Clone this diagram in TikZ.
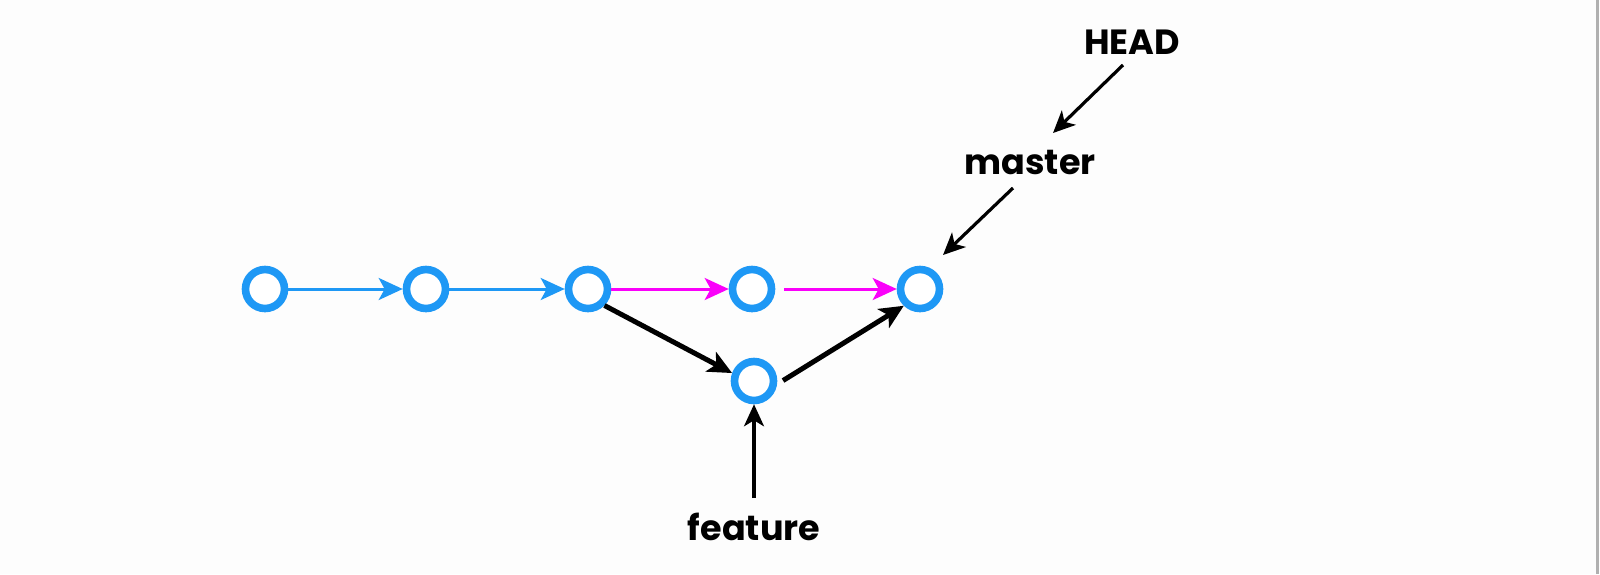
\documentclass[tikz,border=0pt]{standalone}
\usepackage{fontspec}
\setmainfont{Poppins}
\usetikzlibrary{arrows.meta}
\definecolor{gitblue}{RGB}{30,152,245}
\definecolor{gitmag}{RGB}{250,0,250}
\definecolor{bgcol}{RGB}{253,253,253}
\begin{document}
\begin{tikzpicture}[x=0.5pt,y=-0.5pt,
  commit/.style={circle,draw=gitblue,line width=3.8pt,minimum size=19.5pt,inner sep=0pt,fill=white},
  bluearrow/.style={draw=gitblue,line width=1.5pt,-{Stealth[length=12pt,width=11pt,inset=3pt]}},
  magarrow/.style={draw=gitmag,line width=1.5pt,-{Stealth[length=12pt,width=11pt,inset=3pt]}},
  thickarrow/.style={draw=black,line width=2.5pt,-{Stealth[length=12pt,width=11pt,inset=3pt]}},
  thinarrow/.style={draw=black,line width=1.6pt,-{Stealth[length=11pt,width=10pt,inset=3pt]}},
  label/.style={font=\fontsize{17.5}{20}\selectfont\bfseries,inner sep=0pt}]
\fill[bgcol] (0,0) rectangle (1600,574);
\useasboundingbox (0,0) rectangle (1600,574);
\draw[color={rgb,255:red,176;green,176;blue,176},line width=1.5pt] (1597,0) -- (1597,574);
\node[commit] (c1) at (265,289) {};
\node[commit] (c2) at (426,289) {};
\node[commit] (c3) at (588,289) {};
\node[commit] (c4) at (752,289) {};
\node[commit] (c5) at (920,289) {};
\node[commit] (c6) at (754,381) {};
\node[label] (head) at (1132,42) {HEAD};
\node[label] (master) at (1030,162) {master};
\node[label] (feature) at (754,527) {feature};
\coordinate (h1) at (1123,65);
\coordinate (h2) at (1053,133);
\coordinate (m1) at (1013,188);
\coordinate (m2) at (943,255);
\coordinate (f1) at (754,498);
\draw[bluearrow] (c1) -- (c2);
\draw[bluearrow] (c2) -- (c3);
\draw[magarrow] (c3) -- (c4);
\draw[magarrow,shorten <=4.5pt] (c4) -- (c5);
\draw[thickarrow] (c3.-45) -- (c6.160);
\draw[thickarrow,shorten <=3.5pt] (c6.-8) -- (c5.226);
\draw[thinarrow] (h1) -- (h2);
\draw[thinarrow] (m1) -- (m2);
\draw[thinarrow] (f1) -- (c6);
\end{tikzpicture}
\end{document}
